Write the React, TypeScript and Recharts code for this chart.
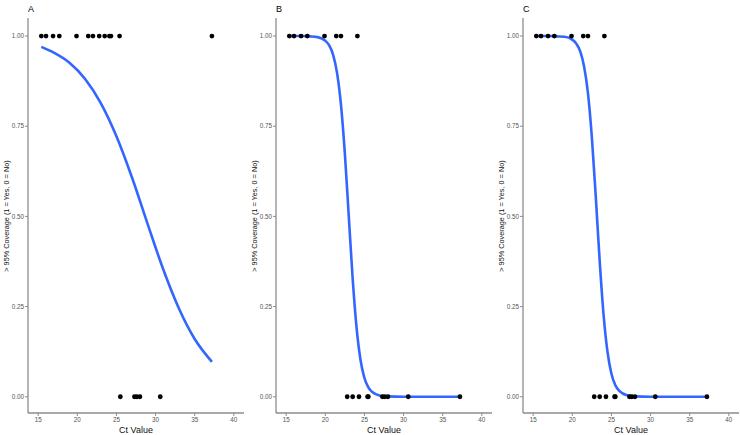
import React from 'react'
import { ComposedChart, Scatter, Line, XAxis, YAxis, Label } from 'recharts'

// observed Ct values, split by outcome (1 = >95% coverage, 0 = not)
const onesA = [15.4, 16.0, 16.9, 17.7, 19.9, 21.4, 22.0, 22.8, 23.5, 24.1, 24.3, 25.4, 37.2]
const zerosA = [25.5, 27.3, 27.6, 28.0, 30.6]
const onesBC = [15.4, 16.0, 16.9, 17.7, 19.9, 21.4, 22.0, 24.1]
const zerosBC = [22.8, 23.5, 24.3, 25.4, 25.5, 27.3, 27.6, 28.0, 30.6, 37.2]

// fitted curves
const fitXA = [15.4, 17, 19, 21, 23, 25, 27, 29, 31, 33, 35, 37.2]
const fitYA = [0.97, 0.954, 0.926, 0.881, 0.814, 0.722, 0.607, 0.478, 0.352, 0.244, 0.16, 0.097]
const fitXBC = [15.4, 17, 18, 19, 20, 20.5, 21, 21.5, 22, 22.5, 23, 23.5, 24, 24.5, 25, 25.5, 26, 27, 28, 30, 33, 37.2]
const fitYB = [1.0, 1.0, 0.999, 0.997, 0.987, 0.974, 0.948, 0.898, 0.81, 0.674, 0.5, 0.326, 0.19, 0.102, 0.052, 0.026, 0.013, 0.003, 0.001, 0, 0, 0]
const fitYC = [1.0, 1.0, 0.999, 0.998, 0.99, 0.979, 0.958, 0.916, 0.842, 0.719, 0.554, 0.376, 0.226, 0.124, 0.064, 0.032, 0.016, 0.004, 0.001, 0, 0, 0]

const xTicks = [15, 20, 25, 30, 35, 40]
const yTicks = [0, 0.25, 0.5, 0.75, 1]

const FONT = '"Liberation Sans", Arial, sans-serif'
const AXIS = '#8c8c8c'

interface PanelProps {
  title: string
  left: number
  yWidth: number
  right: number
  ones: number[]
  zeros: number[]
  fitX: number[]
  fitY: number[]
}

const Panel: React.FC<PanelProps> = ({ title, left, yWidth, right, ones, zeros, fitX, fitY }) => {
  const points = [...ones.map((x) => ({ x, y: 1 })), ...zeros.map((x) => ({ x, y: 0 }))]
  const curve = fitX.map((x, i) => ({ x, y: fitY[i] }))

  return (
    <div style={{ position: 'absolute', left, top: 0, width: 247, height: 435 }}>
      <div style={{ position: 'absolute', left: yWidth, top: 4, fontSize: 9, fontFamily: FONT, color: '#000' }}>
        {title}
      </div>
      <div
        style={{
          position: 'absolute', left: yWidth - 22, top: 216, fontSize: 7.3, fontFamily: FONT, color: '#111',
          whiteSpace: 'nowrap', transform: 'translate(-50%, -50%) rotate(-90deg)',
        }}
      >
        {'> 95% Coverage (1 = Yes, 0 = No)'}
      </div>
      <ComposedChart width={247} height={435} margin={{ top: 18, right, bottom: 0, left: 0 }}>
        <XAxis
          type="number"
          dataKey="x"
          domain={[13.7, 41.3]}
          ticks={xTicks}
          interval={0}
          allowDataOverflow
          height={22}
          tickSize={3}
          tickMargin={2}
          axisLine={{ stroke: AXIS, strokeWidth: 1.3 }}
          tickLine={{ stroke: AXIS }}
          tick={{ fontSize: 6.3, fill: '#555', fontFamily: FONT }}
        >
          <Label value="Ct Value" position="insideBottom" offset={2} style={{ fontSize: 9, fill: '#111', fontFamily: FONT }} />
        </XAxis>
        <YAxis
          type="number"
          dataKey="y"
          domain={[-0.045, 1.05]}
          ticks={yTicks}
          interval={0}
          allowDataOverflow
          width={yWidth}
          tickSize={3}
          tickMargin={1}
          tickFormatter={(v: number) => v.toFixed(2)}
          axisLine={{ stroke: AXIS, strokeWidth: 1.3 }}
          tickLine={{ stroke: AXIS }}
          tick={{ fontSize: 6.3, fill: '#555', fontFamily: FONT }}
        />
        <Line
          data={curve}
          dataKey="y"
          type="monotone"
          stroke="#3366FF"
          strokeWidth={2.6}
          dot={false}
          activeDot={false}
          isAnimationActive={false}
        />
        <Scatter
          data={points}
          dataKey="y"
          isAnimationActive={false}
          shape={(p: any) => <circle cx={p.cx} cy={p.cy} r={2.4} fill="#000" />}
        />
      </ComposedChart>
    </div>
  )
}

export default function App() {
  return (
    <div style={{ position: 'absolute', left: 0, top: 0, width: 740, height: 435, background: '#fff', overflow: 'hidden' }}>
      <Panel title="A" left={0} yWidth={28} right={3} ones={onesA} zeros={zerosA} fitX={fitXA} fitY={fitYA} />
      <Panel title="B" left={247} yWidth={29} right={2} ones={onesBC} zeros={zerosBC} fitX={fitXBC} fitY={fitYB} />
      <Panel title="C" left={493} yWidth={30} right={1} ones={onesBC} zeros={zerosBC} fitX={fitXBC} fitY={fitYC} />
    </div>
  )
}
